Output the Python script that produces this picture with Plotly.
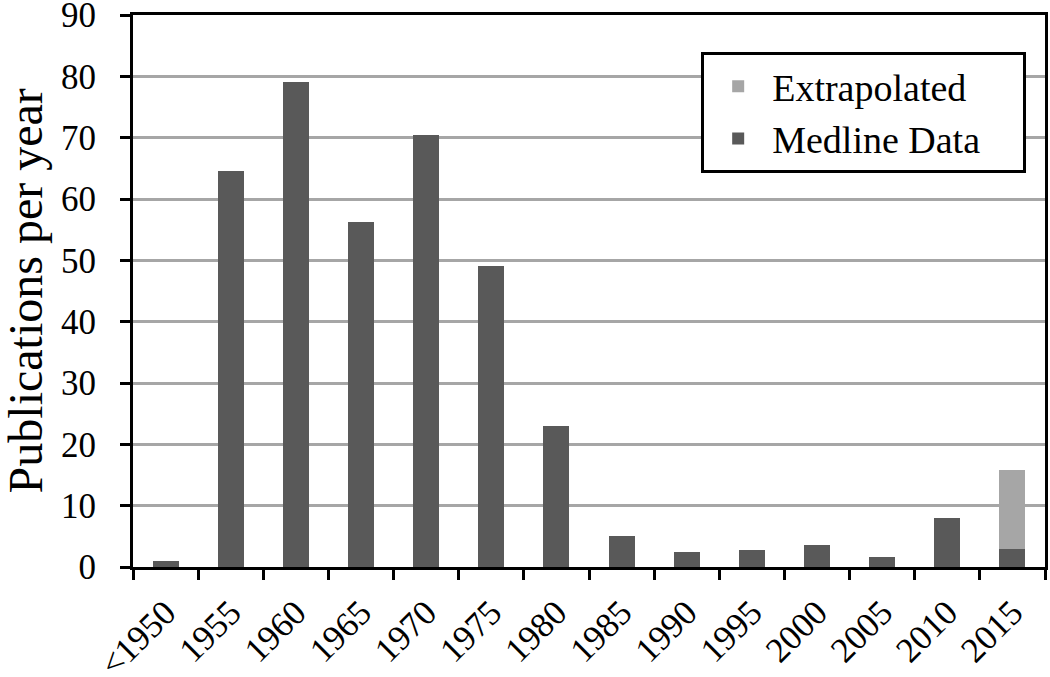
import plotly.graph_objects as go

# category labels sit under the bar centres, tick marks between the bars
tick_labels = ['<1950', '1955', '1960', '1965', '1970', '1975', '1980',
               '1985', '1990', '1995', '2000', '2005', '2010', '2015']
medline = [1.0, 64.5, 79.0, 56.3, 70.5, 49.0, 23.0,
           5.0, 2.4, 2.8, 3.6, 1.7, 8.0, 3.0]
extrapolated = [0, 0, 0, 0, 0, 0, 0, 0, 0, 0, 0, 0, 0, 12.8]

FONT = 'Liberation Serif'
NBSP = '\u00a0'
bar_x = [i + 0.5 for i in range(len(medline))]

fig = go.Figure()
fig.add_trace(go.Bar(x=bar_x, y=medline, name='Medline Data' + NBSP * 4,
                     marker=dict(color='#595959', line=dict(width=0)),
                     width=0.4))
fig.add_trace(go.Bar(x=bar_x, y=extrapolated, name='Extrapolated',
                     marker=dict(color='#a6a6a6', line=dict(width=0)),
                     width=0.4))

fig.update_layout(
    barmode='stack',
    width=1050, height=677,
    margin=dict(l=133, r=5, t=15, b=110),
    plot_bgcolor='white', paper_bgcolor='white',
    font=dict(family=FONT, color='black', size=35),
    legend=dict(x=0.623, y=0.933, xanchor='left', yanchor='top',
                traceorder='reversed', bgcolor='white',
                bordercolor='black', borderwidth=3, itemwidth=58,
                font=dict(size=38)),
)
fig.update_xaxes(range=[0, 14], tickmode='array',
                 tickvals=bar_x, ticktext=tick_labels,
                 tickangle=-45, showgrid=False, zeroline=False,
                 showline=True, linecolor='black', linewidth=3, mirror=True,
                 ticks='', ticklabelstandoff=8,
                 minor=dict(tickmode='array', tickvals=list(range(15)),
                            ticks='outside', ticklen=10, tickwidth=3,
                            tickcolor='black', showgrid=False),
                 ticklabeloverflow='allow', automargin=False)
fig.update_yaxes(range=[0, 90], dtick=10, showgrid=True,
                 gridcolor='#a6a6a6', gridwidth=3, zeroline=False,
                 showline=True, linecolor='black', linewidth=3, mirror=True,
                 ticks='outside', ticklen=10, tickwidth=3, tickcolor='black',
                 ticklabeloverflow='allow', ticklabelstandoff=17,
                 automargin=False)

# y title as a rotated annotation so it can sit close to the page edge
fig.add_annotation(text='Publications per year', textangle=-90,
                   xref='paper', yref='paper', x=-0.118, y=0.5,
                   xanchor='center', yanchor='middle', showarrow=False,
                   font=dict(size=48))

# drop the default page margin so the figure fills the window
fig.write_html("out.html", config={'displayModeBar': False},
               post_script="document.body.style.margin = '0';")
